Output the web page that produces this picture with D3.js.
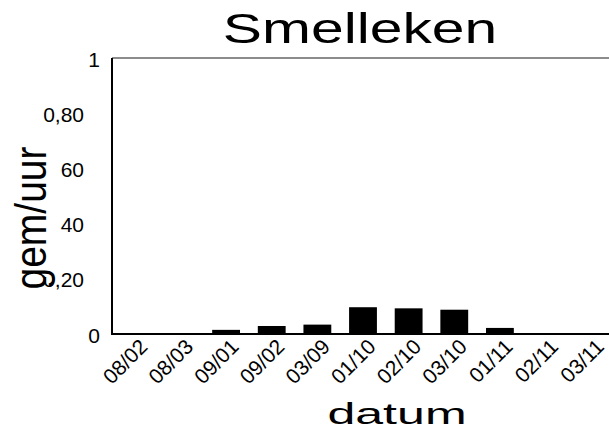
<!DOCTYPE html>
<html>
<head>
<meta charset="utf-8">
<script src="https://cdn.jsdelivr.net/npm/d3@7"></script>
<style>
  body { margin: 0; background: #fff; }
  text { font-family: "Liberation Sans", Arial, sans-serif; fill: #000; }
</style>
</head>
<body>
<div id="chart"></div>
<script>
var categories = ["08/02", "08/03", "09/01", "09/02", "03/09", "01/10", "02/10", "03/10", "01/11", "02/11", "03/11"];
var values = [0, 0, 0.015, 0.029, 0.034, 0.097, 0.093, 0.088, 0.022, 0, 0];
var yTicks = [0, 0.2, 0.4, 0.6, 0.8, 1];
var yTickLabels = ["0", "0,20", "0,40", "0,60", "0,80", "1"];

var chart_width = 609, chart_height = 430;
var plot_left = 112, plot_right = 614, plot_top = 58, plot_bottom = 334;

var svg = d3.select("#chart").append("svg")
  .attr("width", chart_width)
  .attr("height", chart_height);

var xScale = d3.scaleBand()
  .domain(categories)
  .range([plot_left, plot_right])
  .paddingInner(0.39)
  .paddingOuter(0.195);

var yScale = d3.scaleLinear()
  .domain([0, 1])
  .range([plot_bottom, plot_top]);

// top border of plot area
svg.append("line")
  .attr("x1", plot_left).attr("x2", chart_width)
  .attr("y1", yScale(1)).attr("y2", yScale(1))
  .attr("stroke", "#8c8c8c")
  .attr("stroke-width", 2);

// bars
svg.selectAll("rect.bar")
  .data(values)
  .enter()
  .append("rect")
  .attr("class", "bar")
  .attr("x", function(d, i) { return xScale(categories[i]); })
  .attr("y", function(d) { return yScale(d); })
  .attr("width", xScale.bandwidth())
  .attr("height", function(d) { return yScale(0) - yScale(d); })
  .attr("fill", "#000");

// axis lines
svg.append("line")
  .attr("x1", plot_left).attr("x2", plot_left)
  .attr("y1", yScale(1)).attr("y2", yScale(0))
  .attr("stroke", "#000").attr("stroke-width", 2);
svg.append("line")
  .attr("x1", plot_left - 1).attr("x2", chart_width)
  .attr("y1", yScale(0)).attr("y2", yScale(0))
  .attr("stroke", "#000").attr("stroke-width", 2);

// y tick labels (short ones sit closer to the axis)
svg.selectAll("text.ytick")
  .data(yTicks)
  .enter()
  .append("text")
  .attr("class", "ytick")
  .attr("text-anchor", "end")
  .attr("dominant-baseline", "central")
  .attr("font-size", 21)
  .attr("x", function(d, i) { return yTickLabels[i].indexOf(",") < 0 ? 100 : 84; })
  .attr("y", function(d) { return yScale(d) + 1; })
  .text(function(d, i) { return yTickLabels[i]; });

// x tick labels, rotated
svg.selectAll("text.xtick")
  .data(categories)
  .enter()
  .append("text")
  .attr("class", "xtick")
  .attr("text-anchor", "end")
  .attr("font-size", 21)
  .attr("transform", function(d) {
    var cx = xScale(d) + xScale.bandwidth() / 2;
    return "translate(" + (cx + 14) + "," + (plot_bottom + 14) + ") rotate(-45)";
  })
  .text(function(d) { return d; });

// y axis title, with white box behind it
var yTitle = svg.append("g");
yTitle.append("rect")
  .attr("x", 14).attr("y", 148)
  .attr("width", 46).attr("height", 129)
  .attr("fill", "#fff");
yTitle.append("text")
  .attr("text-anchor", "middle")
  .attr("font-size", 39)
  .attr("transform", "translate(46,218) scale(1.15,1) rotate(-90)")
  .text("gem/uur");

// chart title
svg.append("text")
  .attr("text-anchor", "middle")
  .attr("font-size", 42)
  .attr("transform", "translate(360,43) scale(1.4,1)")
  .text("Smelleken");

// x axis title
svg.append("text")
  .attr("text-anchor", "middle")
  .attr("font-size", 30)
  .attr("transform", "translate(397,424) scale(1.67,1)")
  .text("datum");
</script>
</body>
</html>
